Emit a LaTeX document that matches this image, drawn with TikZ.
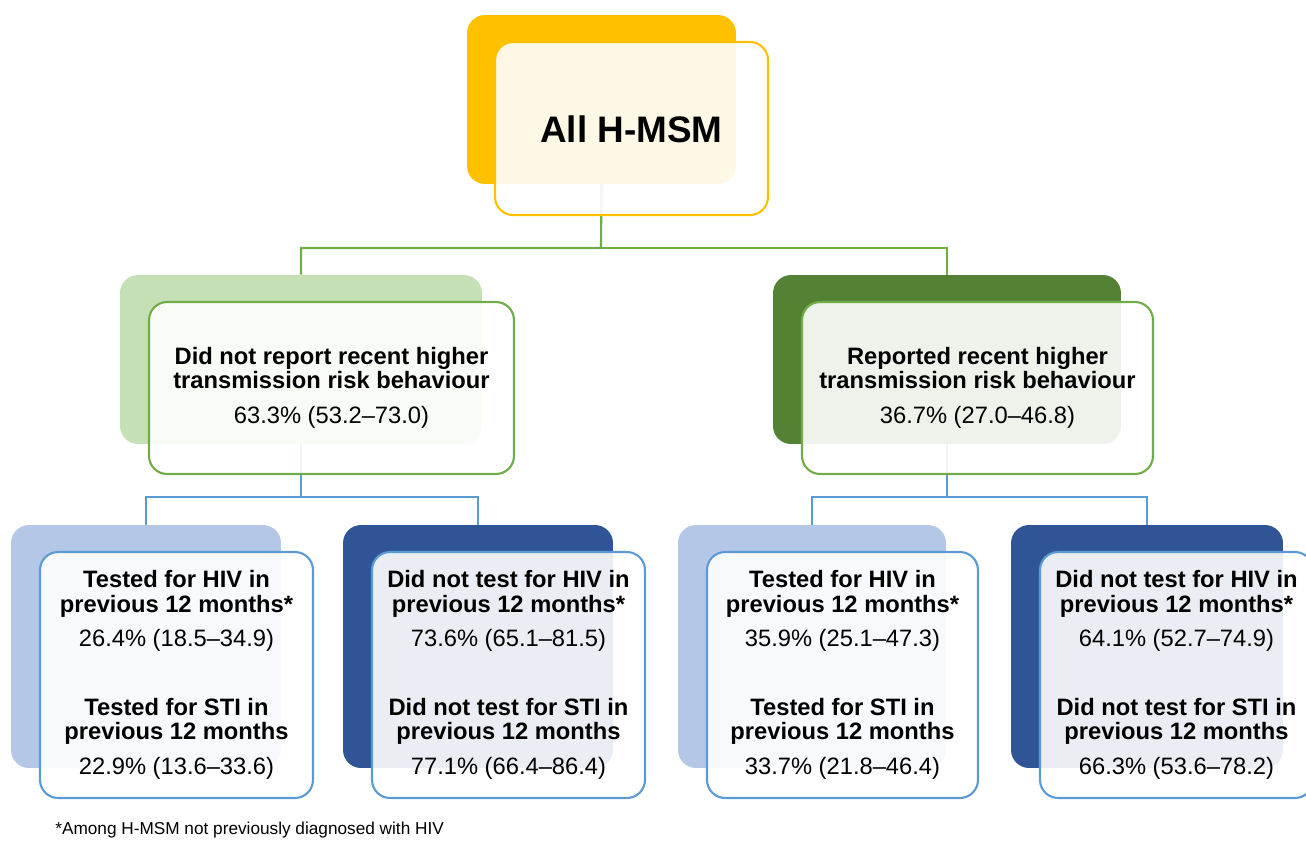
\documentclass[tikz,border=0pt]{standalone}
\usepackage{fontspec}
\setmainfont{Liberation Sans}
\usetikzlibrary{backgrounds}
\definecolor{gold}{HTML}{FFC000}
\definecolor{paleGreen}{HTML}{C5E0B4}
\definecolor{midGreen}{HTML}{70AD47}
\definecolor{darkGreen}{HTML}{548235}
\definecolor{paleBlue}{HTML}{B4C7E7}
\definecolor{midBlue}{HTML}{5B9BD5}
\definecolor{darkBlue}{HTML}{2F5597}
\begin{document}
\begin{tikzpicture}[x=0.02cm, y=-0.02cm,
        backbox/.style={rectangle, rounded corners=0.36cm, inner sep=0pt},
        cardbox/.style={rectangle, draw, line width=1.2pt, rounded corners=0.36cm, fill=white, fill opacity=0.9, text opacity=1, align=center, inner sep=0pt, font=\fontsize{13.5}{13.9}\selectfont, execute at begin node={\rule{0pt}{15.8pt}}},
        link/.style={line width=1.2pt}]
        \useasboundingbox (0,0) rectangle (1306,840);
        \node[backbox, fill=gold, minimum width=5.38cm, minimum height=3.38cm] (allB) at (601.5,99.5) {};
        \node[cardbox, draw=gold, minimum width=5.46cm, minimum height=3.46cm, font=\fontsize{21}{24}\selectfont\bfseries] (all) at (631.5,128.5) {All H-MSM};
        \node[backbox, fill=paleGreen, minimum width=7.24cm, minimum height=3.38cm] (lowB) at (301,359.5) {};
        \node[cardbox, draw=midGreen, minimum width=7.30cm, minimum height=3.44cm] (low) at (331.5,388) {\textbf{Did not report recent higher}\\\textbf{transmission risk behaviour}\\[6pt]63.3\% (53.2--73.0)};
        \node[backbox, fill=darkGreen, minimum width=6.96cm, minimum height=3.38cm] (highB) at (947,359.5) {};
        \node[cardbox, draw=midGreen, minimum width=7.02cm, minimum height=3.44cm] (high) at (977.5,388) {\textbf{Reported recent higher}\\\textbf{transmission risk behaviour}\\[6pt]36.7\% (27.0--46.8)};
        \node[backbox, fill=paleBlue, minimum width=5.40cm, minimum height=4.86cm] (lowTestB) at (146,646.5) {};
        \node[cardbox, draw=midBlue, minimum width=5.46cm, minimum height=4.92cm] (lowTest) at (176.5,675) {\textbf{Tested for HIV in}\\\textbf{previous 12 months*}\\[6pt]26.4\% (18.5--34.9)\\[25pt]\textbf{Tested for STI in}\\\textbf{previous 12 months}\\[6pt]22.9\% (13.6--33.6)};
        \node[backbox, fill=darkBlue, minimum width=5.40cm, minimum height=4.86cm] (lowNoTestB) at (478,646.5) {};
        \node[cardbox, draw=midBlue, minimum width=5.46cm, minimum height=4.92cm] (lowNoTest) at (508.5,675) {\textbf{Did not test for HIV in}\\\textbf{previous 12 months*}\\[6pt]73.6\% (65.1--81.5)\\[25pt]\textbf{Did not test for STI in}\\\textbf{previous 12 months}\\[6pt]77.1\% (66.4--86.4)};
        \node[backbox, fill=paleBlue, minimum width=5.36cm, minimum height=4.86cm] (highTestB) at (812,646.5) {};
        \node[cardbox, draw=midBlue, minimum width=5.42cm, minimum height=4.92cm] (highTest) at (842.5,675) {\textbf{Tested for HIV in}\\\textbf{previous 12 months*}\\[6pt]35.9\% (25.1--47.3)\\[25pt]\textbf{Tested for STI in}\\\textbf{previous 12 months}\\[6pt]33.7\% (21.8--46.4)};
        \node[backbox, fill=darkBlue, minimum width=5.44cm, minimum height=4.86cm] (highNoTestB) at (1147,646.5) {};
        \node[cardbox, draw=midBlue, minimum width=5.46cm, minimum height=4.92cm] (highNoTest) at (1176.5,675) {\textbf{Did not test for HIV in}\\\textbf{previous 12 months*}\\[6pt]64.1\% (52.7--74.9)\\[25pt]\textbf{Did not test for STI in}\\\textbf{previous 12 months}\\[6pt]66.3\% (53.6--78.2)};
        \node[anchor=base west, inner sep=0pt, font=\fontsize{9.8}{12}\selectfont] (note) at (55,834) {*Among H-MSM not previously diagnosed with HIV};
        \coordinate (topJoin) at (601,248);
        \coordinate (lowJoin) at (301,497);
        \coordinate (highJoin) at (947,497);
        \begin{scope}[on background layer]
        \draw[link, midGreen] (allB.south) -- (topJoin) -| (lowB.north);
        \draw[link, midGreen] (topJoin) -| (highB.north);
        \draw[link, midBlue] (lowB.south) -- (lowJoin) -| (lowTestB.north);
        \draw[link, midBlue] (lowJoin) -| (lowNoTestB.north);
        \draw[link, midBlue] (highB.south) -- (highJoin) -| (highTestB.north);
        \draw[link, midBlue] (highJoin) -| (highNoTestB.north);
        \end{scope}
    \end{tikzpicture}
\end{document}
